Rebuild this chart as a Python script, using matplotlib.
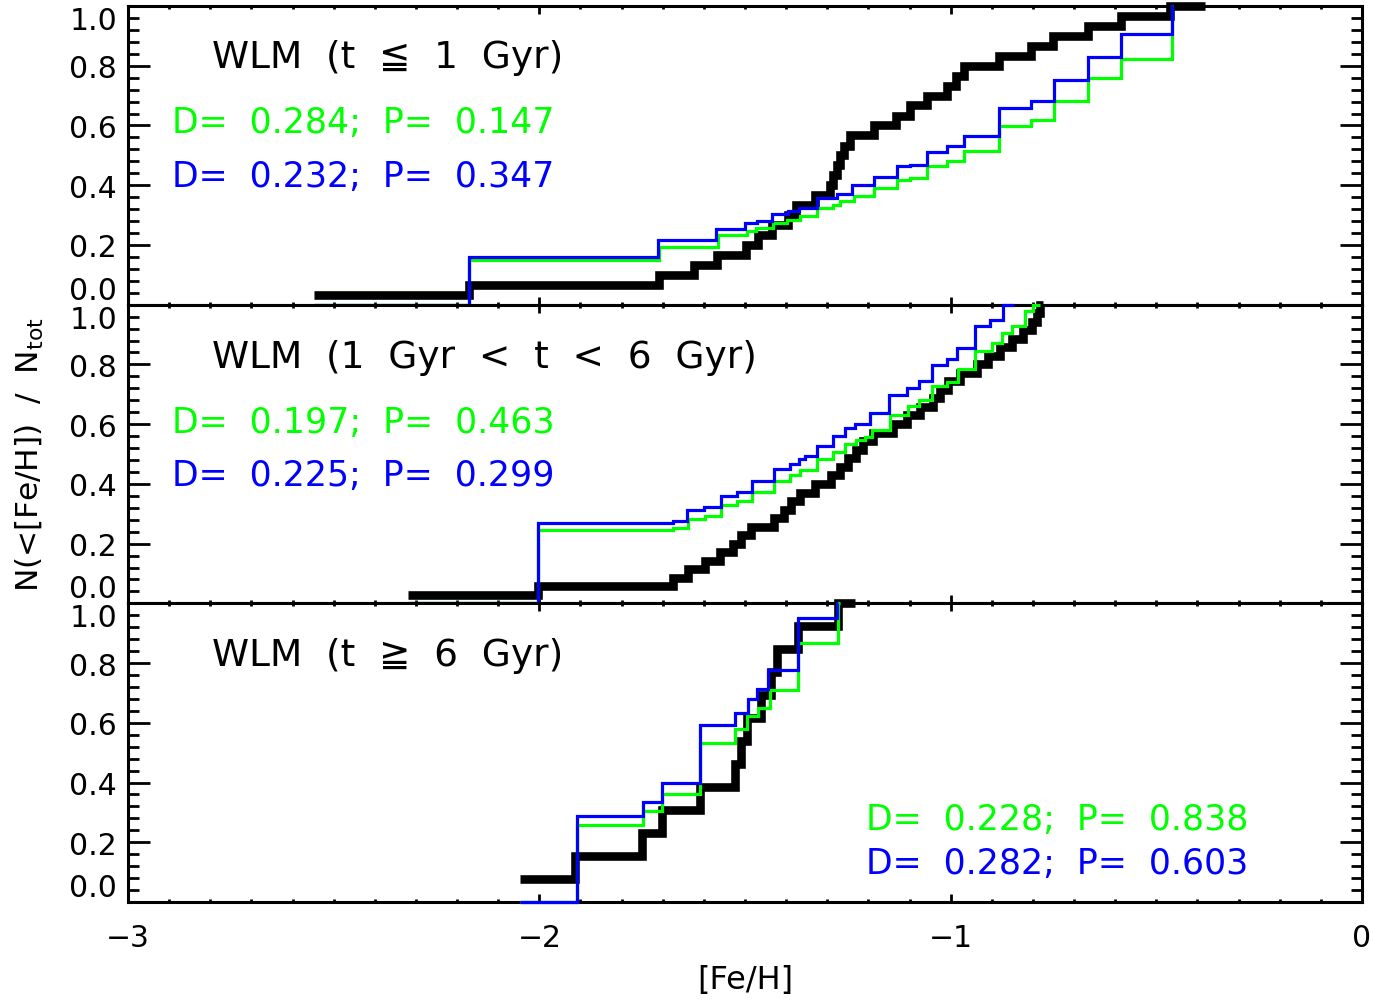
import matplotlib
matplotlib.use("Agg")
import matplotlib.pyplot as plt
from matplotlib.ticker import MultipleLocator, FormatStrFormatter

plt.rcParams['font.family'] = ['DejaVu Sans', 'Noto Sans CJK JP']

# ---- data: step start positions ([Fe/H]), cumulative fractions, last x ----
# top panel: t <= 1 Gyr
top_obs_x = [-2.548, -2.170, -1.709, -1.624, -1.569, -1.498, -1.468, -1.434, -1.395, -1.375,
             -1.330, -1.293, -1.285, -1.277, -1.269, -1.260, -1.244, -1.187, -1.134, -1.098,
             -1.057, -1.008, -0.988, -0.967, -0.882, -0.805, -0.752, -0.667, -0.585, -0.467]
top_obs_y = [0.033, 0.067, 0.100, 0.133, 0.167, 0.200, 0.233, 0.267, 0.300, 0.333,
             0.367, 0.400, 0.433, 0.467, 0.500, 0.533, 0.567, 0.600, 0.633, 0.667,
             0.700, 0.733, 0.767, 0.800, 0.833, 0.867, 0.900, 0.933, 0.967, 1.000]
top_obs_end = -0.382
top_g_x = [-2.548, -2.170, -1.709, -1.566, -1.496, -1.474, -1.433, -1.399, -1.366, -1.325,
           -1.285, -1.268, -1.236, -1.187, -1.130, -1.098, -1.057, -1.008, -0.967, -0.882,
           -0.805, -0.748, -0.667, -0.585, -0.463]
top_g_y = [0.0, 0.148, 0.194, 0.232, 0.248, 0.257, 0.274, 0.285, 0.296, 0.324,
           0.335, 0.346, 0.363, 0.391, 0.419, 0.425, 0.464, 0.480, 0.514, 0.598,
           0.620, 0.682, 0.760, 0.823, 1.0]
top_g_end = -0.460
top_b_x = [-2.548, -2.170, -1.711, -1.624, -1.571, -1.500, -1.472, -1.435, -1.396, -1.369,
           -1.326, -1.276, -1.240, -1.187, -1.130, -1.098, -1.057, -1.008, -0.967, -0.882,
           -0.805, -0.748, -0.667, -0.585, -0.463]
top_b_y = [0.0, 0.160, 0.215, 0.218, 0.255, 0.272, 0.280, 0.302, 0.315, 0.324,
           0.358, 0.369, 0.400, 0.427, 0.464, 0.469, 0.512, 0.531, 0.566, 0.659,
           0.682, 0.751, 0.830, 0.905, 1.0]
top_b_end = -0.460

# middle panel: 1 Gyr < t < 6 Gyr
mid_obs_x = [-2.319, -2.004, -1.674, -1.638, -1.597, -1.560, -1.530, -1.510, -1.485, -1.430,
             -1.405, -1.387, -1.367, -1.330, -1.290, -1.270, -1.250, -1.229, -1.212, -1.188,
             -1.139, -1.107, -1.075, -1.042, -1.026, -1.006, -0.977, -0.937, -0.908, -0.880,
             -0.852, -0.823, -0.803, -0.791, -0.783]
mid_obs_y = [0.029, 0.057, 0.086, 0.114, 0.143, 0.171, 0.200, 0.229, 0.257, 0.286,
             0.314, 0.343, 0.371, 0.400, 0.429, 0.457, 0.486, 0.514, 0.543, 0.571,
             0.600, 0.629, 0.657, 0.686, 0.714, 0.743, 0.771, 0.800, 0.829, 0.857,
             0.886, 0.914, 0.943, 0.971, 1.000]
mid_obs_end = -0.775
mid_g_x = [-2.319, -2.004, -1.674, -1.638, -1.597, -1.559, -1.520, -1.484, -1.429, -1.391,
           -1.366, -1.326, -1.285, -1.257, -1.229, -1.208, -1.192, -1.147, -1.103, -1.078,
           -1.046, -1.010, -0.981, -0.941, -0.900, -0.876, -0.852, -0.819, -0.799]
mid_g_y = [0.0, 0.245, 0.253, 0.283, 0.292, 0.328, 0.342, 0.372, 0.409, 0.431,
           0.448, 0.482, 0.506, 0.532, 0.548, 0.557, 0.582, 0.632, 0.660, 0.682,
           0.729, 0.740, 0.783, 0.844, 0.872, 0.905, 0.928, 0.978, 1.0]
mid_g_end = -0.783
mid_b_x = [-2.319, -2.004, -1.674, -1.641, -1.600, -1.559, -1.520, -1.484, -1.429, -1.391,
           -1.368, -1.354, -1.326, -1.285, -1.257, -1.233, -1.196, -1.151, -1.107, -1.078,
           -1.046, -1.010, -0.985, -0.941, -0.904, -0.873]
mid_b_y = [0.0, 0.270, 0.275, 0.312, 0.322, 0.359, 0.372, 0.409, 0.450, 0.468,
           0.484, 0.495, 0.526, 0.560, 0.588, 0.602, 0.638, 0.696, 0.721, 0.746,
           0.799, 0.818, 0.855, 0.928, 0.950, 1.0]
mid_b_end = -0.845

# bottom panel: t >= 6 Gyr
bot_obs_x = [-2.047, -1.913, -1.751, -1.703, -1.609, -1.524, -1.510, -1.494, -1.460, -1.437,
             -1.421, -1.370, -1.273]
bot_obs_y = [0.077, 0.154, 0.231, 0.308, 0.385, 0.462, 0.538, 0.615, 0.692, 0.769,
             0.846, 0.923, 1.000]
bot_obs_end = -1.232
bot_g_x = [-2.047, -1.909, -1.749, -1.703, -1.609, -1.524, -1.496, -1.468, -1.439, -1.370, -1.273]
bot_g_y = [0.0, 0.258, 0.305, 0.361, 0.534, 0.579, 0.623, 0.651, 0.710, 0.868, 1.0]
bot_g_end = -1.270
bot_b_x = [-2.047, -1.909, -1.749, -1.703, -1.609, -1.524, -1.492, -1.470, -1.443, -1.370, -1.277]
bot_b_y = [0.0, 0.287, 0.335, 0.398, 0.592, 0.634, 0.681, 0.712, 0.777, 0.952, 1.0]
bot_b_end = -1.274

titles = ["WLM  (t  \u2266  1  Gyr)", "WLM  (1  Gyr  <  t  <  6  Gyr)", "WLM  (t  \u2267  6  Gyr)"]
ks_green = ["D=  0.284;  P=  0.147", "D=  0.197;  P=  0.463", "D=  0.228;  P=  0.838"]
ks_blue = ["D=  0.232;  P=  0.347", "D=  0.225;  P=  0.299", "D=  0.282;  P=  0.603"]

panels = [
    (top_obs_x, top_obs_y, top_obs_end, top_g_x, top_g_y, top_g_end, top_b_x, top_b_y, top_b_end),
    (mid_obs_x, mid_obs_y, mid_obs_end, mid_g_x, mid_g_y, mid_g_end, mid_b_x, mid_b_y, mid_b_end),
    (bot_obs_x, bot_obs_y, bot_obs_end, bot_g_x, bot_g_y, bot_g_end, bot_b_x, bot_b_y, bot_b_end),
]
# text anchors (axes fraction): title, green line, blue line
text_pos = [((0.068, 0.795), (0.036, 0.577), (0.036, 0.396)),
            ((0.068, 0.793), (0.036, 0.575), (0.036, 0.395)),
            ((0.068, 0.793), (0.598, 0.244), (0.598, 0.097))]

fig, axes = plt.subplots(3, 1, sharex=True, figsize=(13.95, 10.04), dpi=100)
fig.subplots_adjust(left=0.0918, right=0.9763, bottom=0.1006, top=0.993, hspace=0)

for i, ax in enumerate(axes):
    ox, oy, oend, gx, gy, gend, bx, by, bend = panels[i]
    ax.stairs(oy, ox + [oend], baseline=None, color='black', linewidth=6.2,
              joinstyle='miter', capstyle='butt', clip_on=False, zorder=3)
    ax.stairs(gy, gx + [gend], baseline=None, color='#00ff00', linewidth=2.3,
              joinstyle='miter', capstyle='butt', clip_on=False, zorder=4)
    ax.stairs(by, bx + [bend], baseline=None, color='#0000ff', linewidth=2.3,
              joinstyle='miter', capstyle='butt', clip_on=False, zorder=5)

    ax.set_xlim(-3, 0)
    ax.set_ylim(0, 1)
    ax.set_xticks([-3, -2, -1, 0])
    ax.xaxis.set_minor_locator(MultipleLocator(0.1))
    ax.set_yticks([0, 0.2, 0.4, 0.6, 0.8, 1.0])
    ax.yaxis.set_minor_locator(MultipleLocator(0.04))
    ax.yaxis.set_major_formatter(FormatStrFormatter('%.1f'))
    ax.tick_params(which='both', direction='in', top=True, right=True, labelsize=21.5)
    ax.tick_params(axis='x', which='major', length=6, width=2, pad=15)
    ax.tick_params(axis='x', which='minor', length=2.5, width=2)
    ax.tick_params(axis='y', which='major', length=16, width=2, pad=8)
    ax.tick_params(axis='y', which='minor', length=8, width=2)
    for s in ax.spines.values():
        s.set_linewidth(2.2)
    labs = ax.get_yticklabels()
    labs[0].set_va('bottom')
    labs[-1].set_va('top')

    (tx, ty), (gtx, gty), (btx, bty) = text_pos[i]
    ax.text(tx, ty, titles[i], transform=ax.transAxes, fontsize=27, va='baseline')
    ax.text(gtx, gty, ks_green[i], transform=ax.transAxes, fontsize=25,
            color='#00ff00', va='baseline')
    ax.text(btx, bty, ks_blue[i], transform=ax.transAxes, fontsize=25,
            color='#0000ff', va='baseline')

axes[2].set_xlabel('[Fe/H]', fontsize=23, labelpad=9)
fig.text(30 / 1395, 0.5468, r'N(<[Fe/H])  /  N$_{\rm tot}$', rotation=90,
         fontsize=22.5, ha='center', va='center')

plt.savefig('out.png', dpi=100)
